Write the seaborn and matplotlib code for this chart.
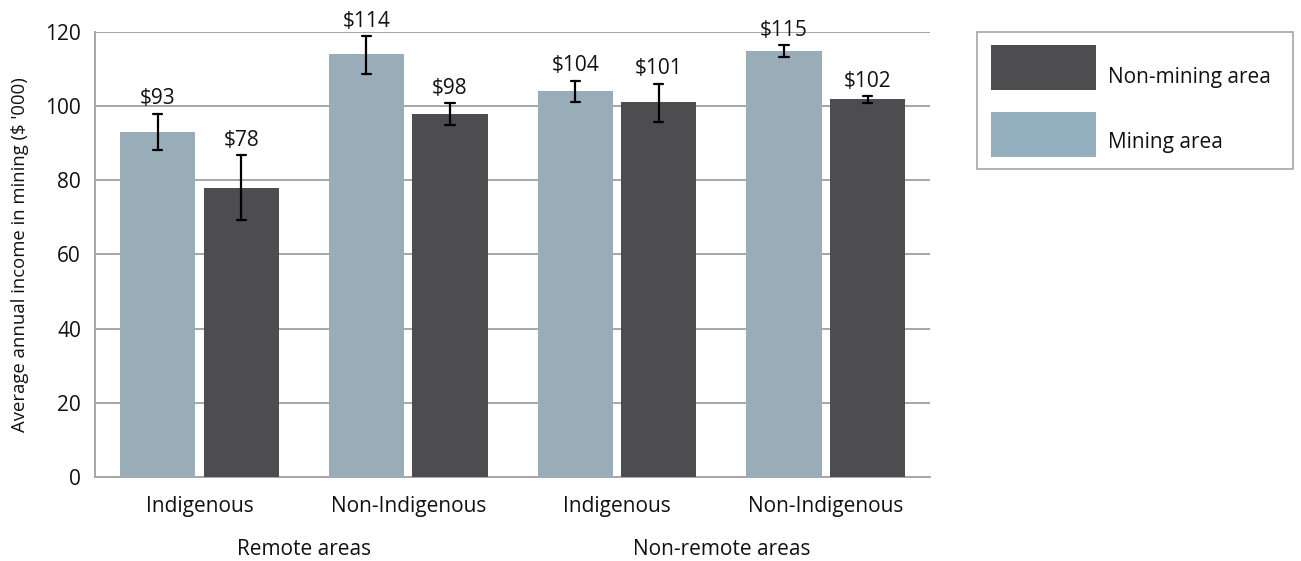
import matplotlib
matplotlib.use("Agg")
import matplotlib.pyplot as plt
import matplotlib.patches as mpatches
import seaborn as sns
import pandas as pd
import numpy as np

groups = ["Indigenous", "Non-Indigenous", "Indigenous ", "Non-Indigenous "]
tick_labels = ["Indigenous", "Non-Indigenous", "Indigenous", "Non-Indigenous"]
areas = ["Remote areas", "Non-remote areas"]
series = ["Mining area", "Non-mining area"]
mining = [93, 114, 104, 115]
non_mining = [78, 98, 101, 102]
mining_err_low = [88.2, 108.7, 101.1, 113.3]
mining_err_high = [98.0, 119.0, 106.9, 116.5]
non_mining_err_low = [69.3, 94.9, 95.7, 100.9]
non_mining_err_high = [86.8, 100.9, 106.1, 102.8]

colors = {"Mining area": "#94afbd", "Non-mining area": "#4d4d4f"}

df = pd.DataFrame({
    "group": groups * 2,
    "series": [series[0]] * 4 + [series[1]] * 4,
    "value": mining + non_mining,
})

sns.set_style("white")
plt.rcParams["font.family"] = ["Open Sans", "DejaVu Sans"]
FS = 15

fig, ax = plt.subplots(figsize=(13.01, 5.61), dpi=100)
fig.subplots_adjust(left=0.073, right=0.715, top=0.943, bottom=0.150)

sns.barplot(data=df, x="group", y="value", hue="series", order=groups,
            hue_order=series, palette=colors, width=0.8, gap=0.1,
            errorbar=None, ax=ax, legend=False, zorder=3, linewidth=0)

lows = [mining_err_low, non_mining_err_low]
highs = [mining_err_high, non_mining_err_high]
vals = [mining, non_mining]
for si, container in enumerate(ax.containers):
    for bi, bar in enumerate(container):
        cx = bar.get_x() + bar.get_width() / 2
        lo, hi = lows[si][bi], highs[si][bi]
        ax.plot([cx, cx], [lo, hi], color="black", lw=1.6, zorder=4)
        ax.plot([cx - 0.022, cx + 0.022], [lo, lo], color="black", lw=1.6, zorder=4)
        ax.plot([cx - 0.022, cx + 0.022], [hi, hi], color="black", lw=1.6, zorder=4)
        ax.annotate(f"${vals[si][bi]}", (cx, hi), xytext=(0, 3),
                    textcoords="offset points", ha="center", va="bottom",
                    fontsize=FS, color="#111111")

ax.set_ylim(0, 120)
ax.set_xlim(-0.5, 3.5)
ax.set_yticks(range(0, 121, 20))
ax.yaxis.grid(True, color="#a6a6a6", lw=1.4, zorder=0)
ax.set_axisbelow(True)
for s in ["top", "right"]:
    ax.spines[s].set_visible(False)
for s in ["left", "bottom"]:
    ax.spines[s].set_color("#a6a6a6")
    ax.spines[s].set_linewidth(1.4)

ax.set_xticks(range(4))
ax.set_xticklabels(tick_labels, fontsize=FS, color="#111111")
ax.tick_params(axis="x", which="major", length=0, pad=14)
ax.set_xticks([0.5, 1.5, 2.5, 3.5], minor=True)
ax.tick_params(axis="x", which="minor", direction="in", length=9, width=1.2, color="#a6a6a6")
ax.tick_params(axis="y", length=0, pad=10, labelsize=FS, labelcolor="#111111")
ax.set_xlabel("")
ax.set_ylabel("Average annual income in mining ($ '000)", fontsize=13.3,
              labelpad=12, color="#111111")

for i, a in enumerate(areas):
    ax.text(0.5 + 2 * i, -0.163, a, transform=ax.get_xaxis_transform(),
            ha="center", va="center", fontsize=FS, color="#111111")

# legend drawn as figure artists
tf = fig.transFigure
frame = mpatches.Rectangle((0.751, 0.6988), 0.9939 - 0.751, 0.943 - 0.6988,
                           transform=tf, fill=False, edgecolor="#a6a6a6", lw=1.2)
fig.patches.append(frame)
legend_items = [("Non-mining area", 0.8396, 0.8627), ("Mining area", 0.7201, 0.7451)]
for label, ybot, ytxt in legend_items:
    fig.patches.append(mpatches.Rectangle((0.7617, ybot), 0.8424 - 0.7617, 0.0802,
                                          transform=tf, color=colors[label], lw=0))
    fig.text(0.8517, ytxt, label, ha="left", va="center", fontsize=FS, color="#111111")

fig.savefig("out.png", dpi=100)
